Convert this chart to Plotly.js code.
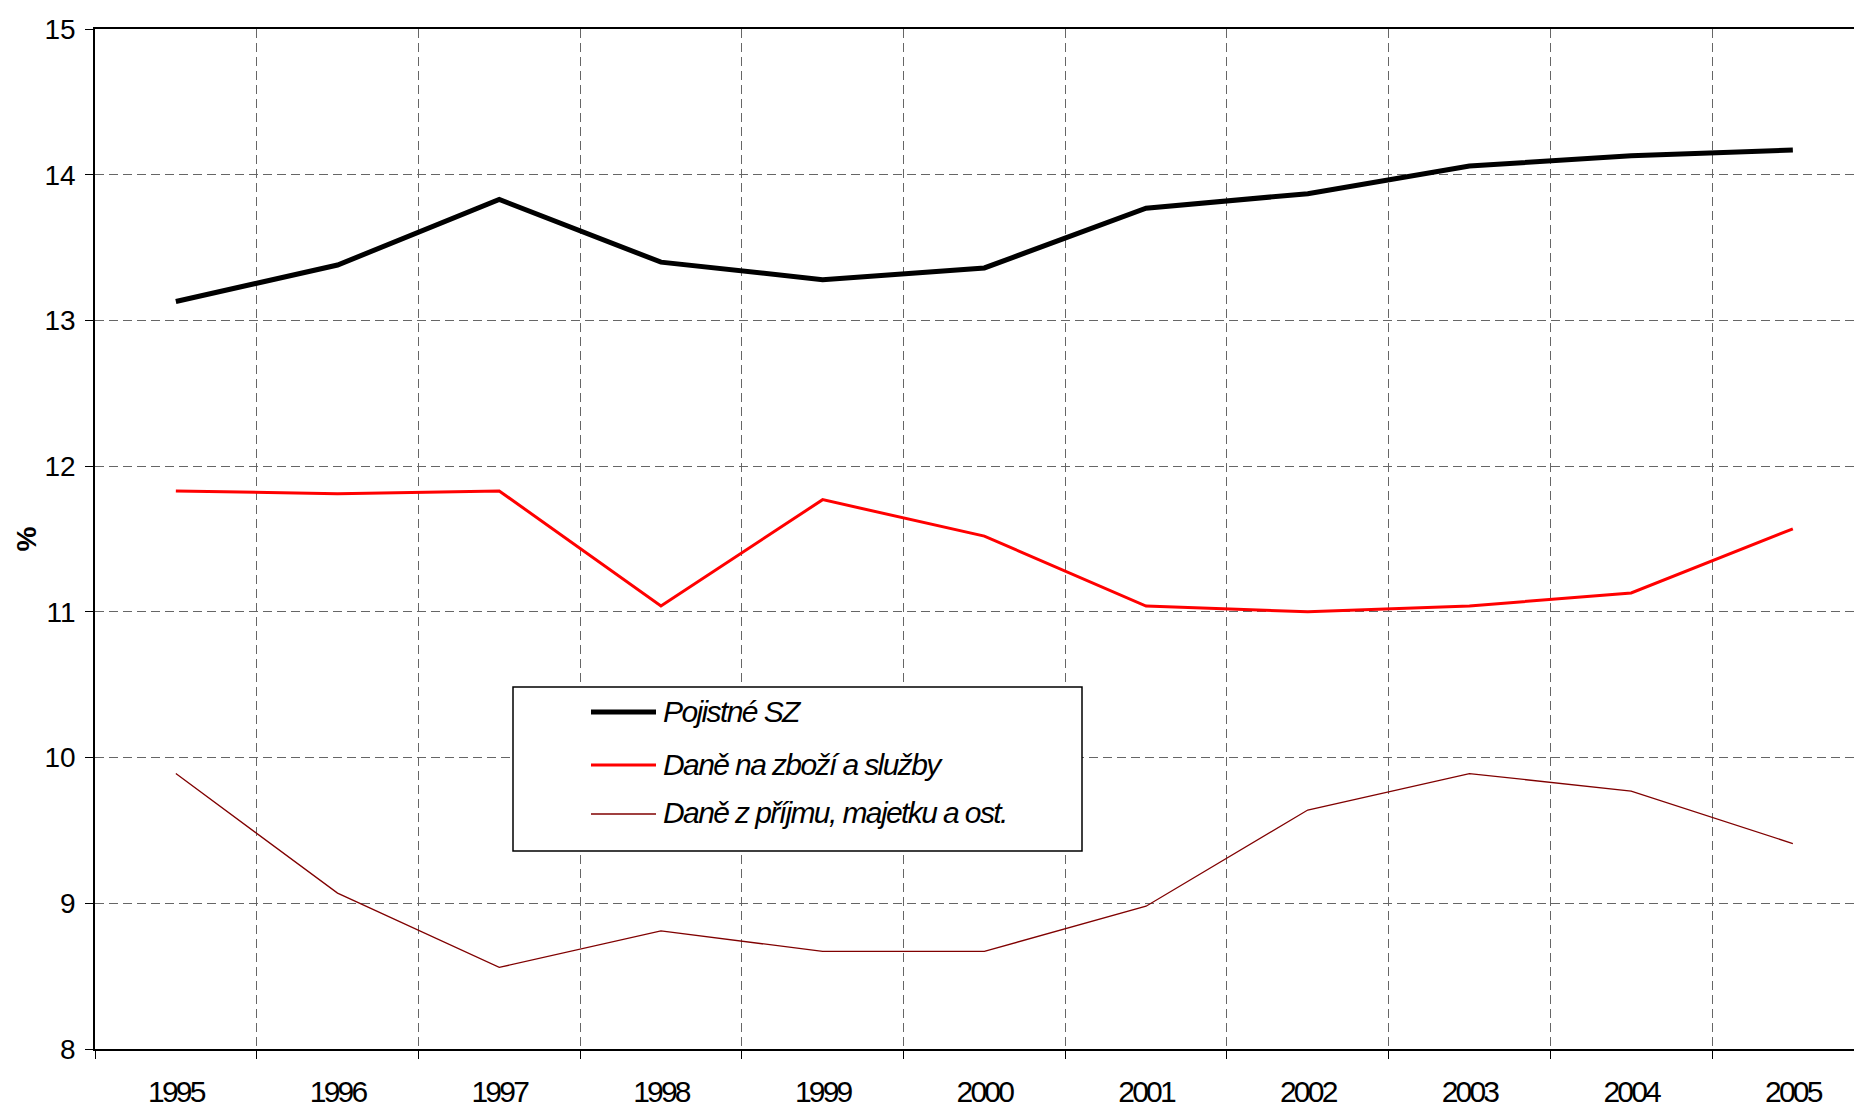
<!DOCTYPE html>
<html>
<head>
<meta charset="utf-8">
<script src="https://cdn.plot.ly/plotly-3.0.1.min.js"></script>
<style>
  html, body { margin: 0; padding: 0; background: #fff; }
  #chart { width: 1854px; height: 1112px; }
  .xtick text { letter-spacing: -2.8px; }
  .annotation-text { letter-spacing: -1.6px; }
</style>
</head>
<body>
<div id="chart"></div>
<script>
// ---- data ----
const years = ['1995','1996','1997','1998','1999','2000','2001','2002','2003','2004','2005'];
const pojistneSZ = [13.13, 13.38, 13.83, 13.40, 13.28, 13.36, 13.77, 13.87, 14.06, 14.13, 14.17];
const daneZbozi = [11.83, 11.81, 11.83, 11.04, 11.77, 11.52, 11.04, 11.00, 11.04, 11.13, 11.57];
const danePrijmu = [9.89, 9.07, 8.56, 8.81, 8.67, 8.67, 8.98, 9.64, 9.89, 9.77, 9.41];
const seriesNames = ['Pojistné SZ', 'Daně na zboží a služby', 'Daně z příjmu, majetku a ost.'];
const yTickVals = [8, 9, 10, 11, 12, 13, 14, 15];
const yTitle = '%';

// ---- styling ----
const W = 1854, H = 1112;
const M = {l: 95, r: 0, t: 29, b: 63};
const PW = W - M.l - M.r, PH = H - M.t - M.b;
const px = x => (x - M.l) / PW;
const py = y => (H - M.b - y) / PH;
const colors = ['#000000', '#ff0000', '#800000'];
const widths = [5, 3, 1.3];
const seriesData = [pojistneSZ, daneZbozi, danePrijmu];
const FONT = '"Liberation Sans", Arial, sans-serif';

const traces = seriesData.map((vals, i) => ({
  type: 'scatter', mode: 'lines', x: years, y: vals, name: seriesNames[i],
  line: {color: colors[i], width: widths[i]}, showlegend: false, hoverinfo: 'x+y+name'
}));

// custom legend (box, sample lines, labels)
const legBox = {x0: 513, x1: 1082, y0: 687, y1: 851};
const rowY = [712, 765, 814];
const shapes = [{
  type: 'rect', xref: 'paper', yref: 'paper', layer: 'above',
  x0: px(legBox.x0), x1: px(legBox.x1), y0: py(legBox.y1), y1: py(legBox.y0),
  fillcolor: '#ffffff', line: {color: '#000000', width: 1.5}
}];
const annotations = [];
seriesNames.forEach((n, i) => {
  shapes.push({
    type: 'line', xref: 'paper', yref: 'paper', layer: 'above',
    x0: px(591), x1: px(656), y0: py(rowY[i]), y1: py(rowY[i]),
    line: {color: colors[i], width: widths[i]}
  });
  annotations.push({
    xref: 'paper', yref: 'paper', x: px(661), y: py(rowY[i] - 1),
    xanchor: 'left', yanchor: 'middle', showarrow: false, text: n,
    font: {family: FONT, size: 30, style: 'italic', color: '#000'}
  });
});

const layout = {
  width: W, height: H,
  margin: M,
  paper_bgcolor: '#fff', plot_bgcolor: '#fff',
  font: {family: FONT, color: '#000'},
  xaxis: {
    type: 'category', categoryorder: 'array', categoryarray: years,
    range: [-0.5, -0.5 + PW / 161.7],
    tickson: 'boundaries', ticks: 'outside', ticklen: 8, tickwidth: 1.2, tickcolor: '#000',
    showline: true, linecolor: '#000', linewidth: 1.5, mirror: true,
    showgrid: true, gridcolor: '#666', gridwidth: 1.2, griddash: '9px,5px',
    tickfont: {family: FONT, size: 30, color: '#000'},
    ticklabelstandoff: 15, fixedrange: true
  },
  yaxis: {
    range: [8, 15], tickvals: yTickVals, ticks: 'outside', ticklen: 8, tickwidth: 1.2, tickcolor: '#000',
    showline: true, linecolor: '#000', linewidth: 1.5, zeroline: false,
    showgrid: true, gridcolor: '#666', gridwidth: 1.2, griddash: '9px,5px',
    tickfont: {family: FONT, size: 28, color: '#000'},
    ticklabelstandoff: 4,
    title: {text: yTitle, font: {family: FONT, size: 28, weight: 'bold', color: '#000'}, standoff: 0},
    fixedrange: true
  },
  shapes: shapes,
  annotations: annotations
};

Plotly.newPlot('chart', traces, layout, {displayModeBar: false, staticPlot: false});
</script>
</body>
</html>
